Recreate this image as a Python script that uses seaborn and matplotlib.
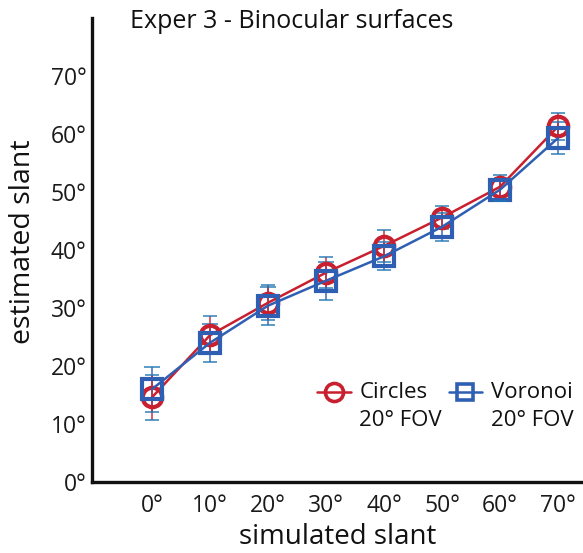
import numpy as np
import pandas as pd
import matplotlib
matplotlib.use("Agg")
import matplotlib.pyplot as plt
import seaborn as sns
from matplotlib.lines import Line2D

simulated = [0, 10, 20, 30, 40, 50, 60, 70]
circles = [14.6, 25.3, 30.9, 36.1, 40.7, 45.6, 50.9, 61.3]
circles_err = [3.85, 3.3, 3.0, 2.7, 2.7, 2.0, 2.1, 2.4]
voronoi = [16.0, 24.0, 30.4, 34.7, 38.9, 44.0, 50.4, 59.3]
voronoi_err = [3.85, 3.3, 3.3, 3.3, 2.4, 2.4, 1.9, 2.7]
tick_vals = [0, 10, 20, 30, 40, 50, 60, 70]
tick_labels = ["0°", "10°", "20°", "30°", "40°", "50°", "60°", "70°"]

RED = "#c8202f"
BLUE = "#2f5fb3"

sns.set_style("white")
plt.rcParams['font.family'] = ['Open Sans', 'DejaVu Sans']

df = pd.DataFrame({
    "simulated": simulated * 2,
    "estimated": circles + voronoi,
    "stim": ["Circles\n20° FOV"] * len(simulated) + ["Voronoi\n20° FOV"] * len(simulated),
})

fig = plt.figure(figsize=(5.83, 5.53), dpi=100)
ax = fig.add_axes([92/583, 1 - 482/553, 1 - 92/583, (482 - 18)/553])

# error bars
ax.errorbar(simulated, voronoi, yerr=voronoi_err, fmt='none', ecolor=BLUE,
            elinewidth=1.2, capsize=5, capthick=1.2, alpha=0.85, zorder=2)
ax.errorbar(simulated, circles, yerr=circles_err, fmt='none', ecolor=RED,
            elinewidth=1.2, capsize=5, capthick=1.2, alpha=0.85, zorder=2)

sns.lineplot(data=df, x="simulated", y="estimated", hue="stim", style="stim",
             palette={"Circles\n20° FOV": RED, "Voronoi\n20° FOV": BLUE},
             markers={"Circles\n20° FOV": "o", "Voronoi\n20° FOV": "s"},
             dashes=False, markersize=14, markeredgewidth=3,
             markerfacecolor="none", linewidth=1.8, ax=ax, legend=False,
             zorder=3)
for line in ax.lines:
    line.set_markerfacecolor("none")
    line.set_markeredgecolor(line.get_color())
lines = ax.lines
if len(lines) >= 2:
    lines[0].set_zorder(4)
    lines[1].set_zorder(3)
    lines[1].set_markersize(12)

ax.set_xlim(-10.34, 74.3)
ax.set_ylim(0, 80)
ax.set_xticks(tick_vals)
ax.set_xticklabels(tick_labels, fontsize=16.5)
ax.set_yticks(tick_vals)
ax.set_yticklabels(tick_labels, fontsize=16.5)
ax.tick_params(axis='y', direction='in', length=9, width=2, color='#111111',
               labelcolor='#1a1a1a', pad=4)
ax.tick_params(axis='x', direction='in', length=10, width=2, color='#111111',
               labelcolor='#1a1a1a', pad=9)
for s in ["top", "right"]:
    ax.spines[s].set_visible(False)
for s in ["left", "bottom"]:
    ax.spines[s].set_linewidth(2.4)
    ax.spines[s].set_color('#111111')

ax.set_xlabel("simulated slant", fontsize=20, labelpad=3, color='#111111')
ax.set_ylabel("estimated slant", fontsize=20.5, color='#111111')
ax.yaxis.set_label_coords((37 - 92) / 491, (482 - 242) / 464)
fig.text(292/583, 1 - 22/553, "Exper 3 - Binocular surfaces", fontsize=18,
         ha='center', va='center', color='#111111')

handles = [
    Line2D([0], [0], color=RED, marker='o', markersize=13, markeredgewidth=2.6,
           markerfacecolor='none', linewidth=1.8),
    Line2D([0], [0], color=BLUE, marker='s', markersize=11, markeredgewidth=2.6,
           markerfacecolor='none', linewidth=1.8),
]
leg = ax.legend(handles, ["Circles\n20° FOV", "Voronoi\n20° FOV"], ncol=2,
                loc='lower right', bbox_to_anchor=(1.008, 0.081), frameon=False,
                fontsize=16, handlelength=1.5, handletextpad=0.4,
                handleheight=1.3,
                columnspacing=0.3, borderaxespad=0.2, labelspacing=0.2)
for t in leg.get_texts():
    t.set_color('#111111')
    t.set_linespacing(1.45)
# align handles with the first line of each label
for col in leg._legend_handle_box.get_children():
    for entry in col.get_children():
        entry.align = "top"

fig.savefig("out.png", dpi=100)
